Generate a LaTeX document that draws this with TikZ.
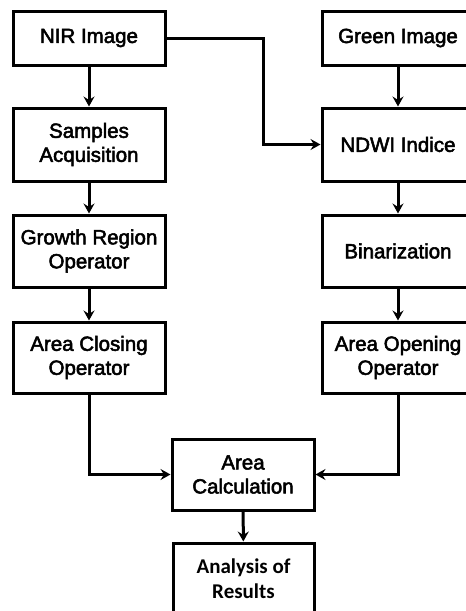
\documentclass[tikz,border=0pt]{standalone}
\usepackage{fontspec}
\newfontfamily\medfont{Liberation Sans}[FakeBold=2.5]
\newfontfamily\calfont{Carlito}
\usetikzlibrary{arrows.meta}
\begin{document}
\begin{tikzpicture}[x=1pt,y=-1pt,
  box/.style={draw=black, line width=3pt, fill=white, rectangle, minimum width=152pt, inner sep=0pt, align=center, font=\medfont\fontsize{20.5}{24}\selectfont},
  arr/.style={line width=3pt, -{Stealth[length=10pt,width=11pt,inset=3.5pt]}}]
\useasboundingbox (0,0) rectangle (466,611);
\clip (0,0) rectangle (466,611);
\fill[white] (0,0) rectangle (466,611);
\node[box, minimum height=54pt] (nir) at (89,38) {NIR Image};
\node[box, minimum height=73pt] (samp) at (89,144.5) {Samples\\Acquisition};
\node[box, minimum height=72pt] (grow) at (89,251) {Growth Region\\Operator};
\node[box, minimum height=71pt] (close) at (89,357.5) {Area Closing\\Operator};
\node[box, minimum height=54pt] (green) at (398,38) {Green Image};
\node[box, minimum height=73pt] (ndwi) at (398,144.5) {NDWI Indice};
\node[box, minimum height=72pt] (bin) at (398,251) {Binarization};
\node[box, minimum height=71pt] (open) at (398,357.5) {Area Opening\\Operator};
\node[box, minimum height=71pt, minimum width=142pt] (calc) at (243,474.5) {Area\\Calculation};
\node[box, minimum height=72pt, minimum width=141pt, font=\calfont\fontsize{21}{25}\selectfont\bfseries] (res) at (243.5,579) {Analysis of\\Results};
\draw[arr] (nir) -- (samp);
\draw[arr] (samp) -- (grow);
\draw[arr] (grow) -- (close);
\draw[arr] (green) -- (ndwi);
\draw[arr] (ndwi) -- (bin);
\draw[arr] (bin) -- (open);
\draw[arr] (nir.east) -- ++(97,0) |- (ndwi.west);
\draw[arr] (close.south) |- (calc.west);
\draw[arr] (open.south) |- (calc.east);
\draw[arr] (calc) -- (res);
\end{tikzpicture}
\end{document}
